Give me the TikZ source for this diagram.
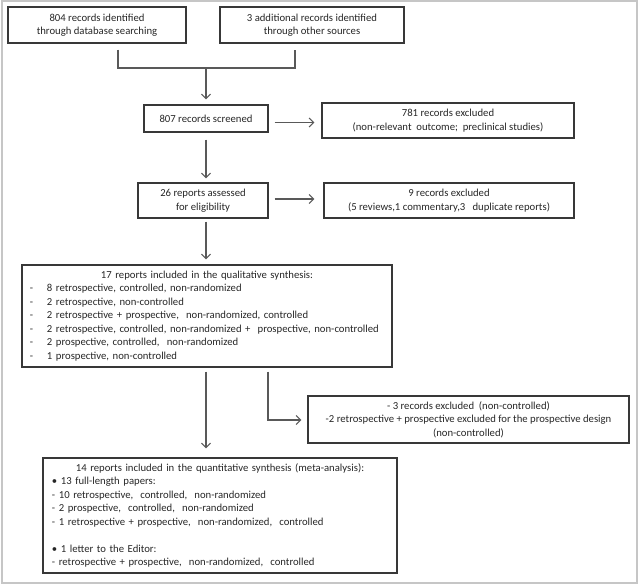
\documentclass[tikz,border=0pt]{standalone}
\usepackage{fontspec}
\setmainfont{Carlito}
\usepackage{xcolor}
\colorlet{colBox}{black!78}
\colorlet{colLink}{black!65}
\colorlet{colFrame}{gray!45}
\usepackage{tikz}
\usetikzlibrary{arrows.meta, calc}
\newcommand{\qitem}{\makebox[17pt][l]{-}}

\begin{document}
\begin{tikzpicture}[x=1pt, y=-1pt,
				box/.style={draw=colBox, line width=1.2pt, inner sep=3pt, align=center,
					text=black!85, font=\fontsize{10.7}{13.5}\selectfont},
				listbox/.style={box, align=left, inner ysep=4pt},
				link/.style={draw=colLink, line width=1.1pt},
				arr/.style={link, ->},
				>={Straight Barb[length=4.5pt, width=9pt]}
			]
			\useasboundingbox (0,0) rectangle (638,584);
			\draw[colFrame, line width=2pt] (2,1) rectangle (636.5,582.5);

			% ===== Identification =====
			\node[box, minimum width=178pt, minimum height=36pt] (db) at (97,25)
				{804 records identified\\through database searching};
			\node[box, minimum width=184pt, minimum height=36pt] (os) at (312,25)
				{3 additional records identified\\through other sources};

			\coordinate (dbdrop) at ([xshift=21pt, yshift=-6pt]db.south);
			\coordinate (osdrop) at ([xshift=-17pt, yshift=-6pt]os.south);
			\coordinate (merge) at (206,68);

			% ===== Screening =====
			\node[box, minimum width=124pt, minimum height=27pt] (scr) at (206,118.5)
				{807 records screened};
			\node[box, minimum width=252pt, minimum height=35pt] (exc1) at (448,120.5)
				{781 records excluded\\(non-relevant~ outcome;~ preclinical studies)};

			\draw[link] (dbdrop) -- (dbdrop |- merge) -- (osdrop |- merge) -- (osdrop);
			\draw[arr] (merge) -- ([yshift=5pt]scr.north -| merge);
			\draw[arr] ([xshift=6pt, yshift=-4pt]scr.east)
				-- ([xshift=-7pt, yshift=-4pt]exc1.west |- scr.east);

			% ===== Eligibility =====
			\node[box, minimum width=130pt, minimum height=35pt] (elig) at (203,200.5)
				{26 reports assessed\\for eligibility};
			\node[box, minimum width=250pt, minimum height=35pt] (exc2) at (449,200.5)
				{9 records excluded\\(5 reviews,1 commentary,3~~ duplicate reports)};

			\draw[arr] ([yshift=-7pt]scr.south) -- ([yshift=4pt]elig.north -| scr.south);
			\draw[arr] ([xshift=6pt, yshift=1.5pt]elig.east)
				-- ([xshift=-9pt, yshift=1.5pt]exc2.west |- elig.east);

			% ===== Qualitative synthesis =====
			\node[listbox, text width=354pt, inner xsep=8pt, minimum height=102pt] (qual) at (207,316)
				{\makebox[\linewidth]{17 reports included in the qualitative synthesis:}\\
				\qitem 8 retrospective, controlled, non-randomized\\
				\qitem 2 retrospective, non-controlled\\
				\qitem 2 retrospective + prospective,~ non-randomized, controlled\\
				\qitem 2 retrospective, controlled, non-randomized +~ prospective, non-controlled\\
				\qitem 2 prospective, controlled,~ non-randomized\\
				\qitem 1 prospective, non-controlled};

			\draw[arr] ([yshift=-3pt]elig.south -| scr.south) -- ([yshift=5pt]qual.north -| scr.south);

			% ===== Excluded after synthesis =====
			\node[box, minimum width=321pt, minimum height=47pt] (exc3) at (468.5,419.5)
				{- 3 records excluded~ (non-controlled)\\
				-2 retrospective + prospective excluded for the prospective design\\
				(non-controlled)};
			\coordinate (bend) at (268,420);
			\draw[arr] ([yshift=-4pt]qual.south -| bend) -- (bend) -- ([xshift=-6pt]exc3.west |- bend);

			% ===== Quantitative synthesis =====
			\node[listbox, text width=336pt, inner xsep=9pt, minimum height=115pt] (quant) at (220,515.5)
				{\makebox[\linewidth]{14 reports included in the quantitative synthesis (meta-analysis):}\\
				\textbullet\ 13 full-length papers:\\
				- 10 retrospective,~ controlled,~ non-randomized\\
				- 2 prospective,~ controlled,~ non-randomized\\
				- 1 retrospective + prospective,~ non-randomized,~ controlled\\[13.5pt]
				\textbullet\ 1 letter to the Editor:\\
				- retrospective + prospective,~ non-randomized,~ controlled};

			\draw[arr] ([yshift=-4pt]qual.south -| scr.south) -- ([yshift=9pt]quant.north -| scr.south);
		\end{tikzpicture}
\end{document}
